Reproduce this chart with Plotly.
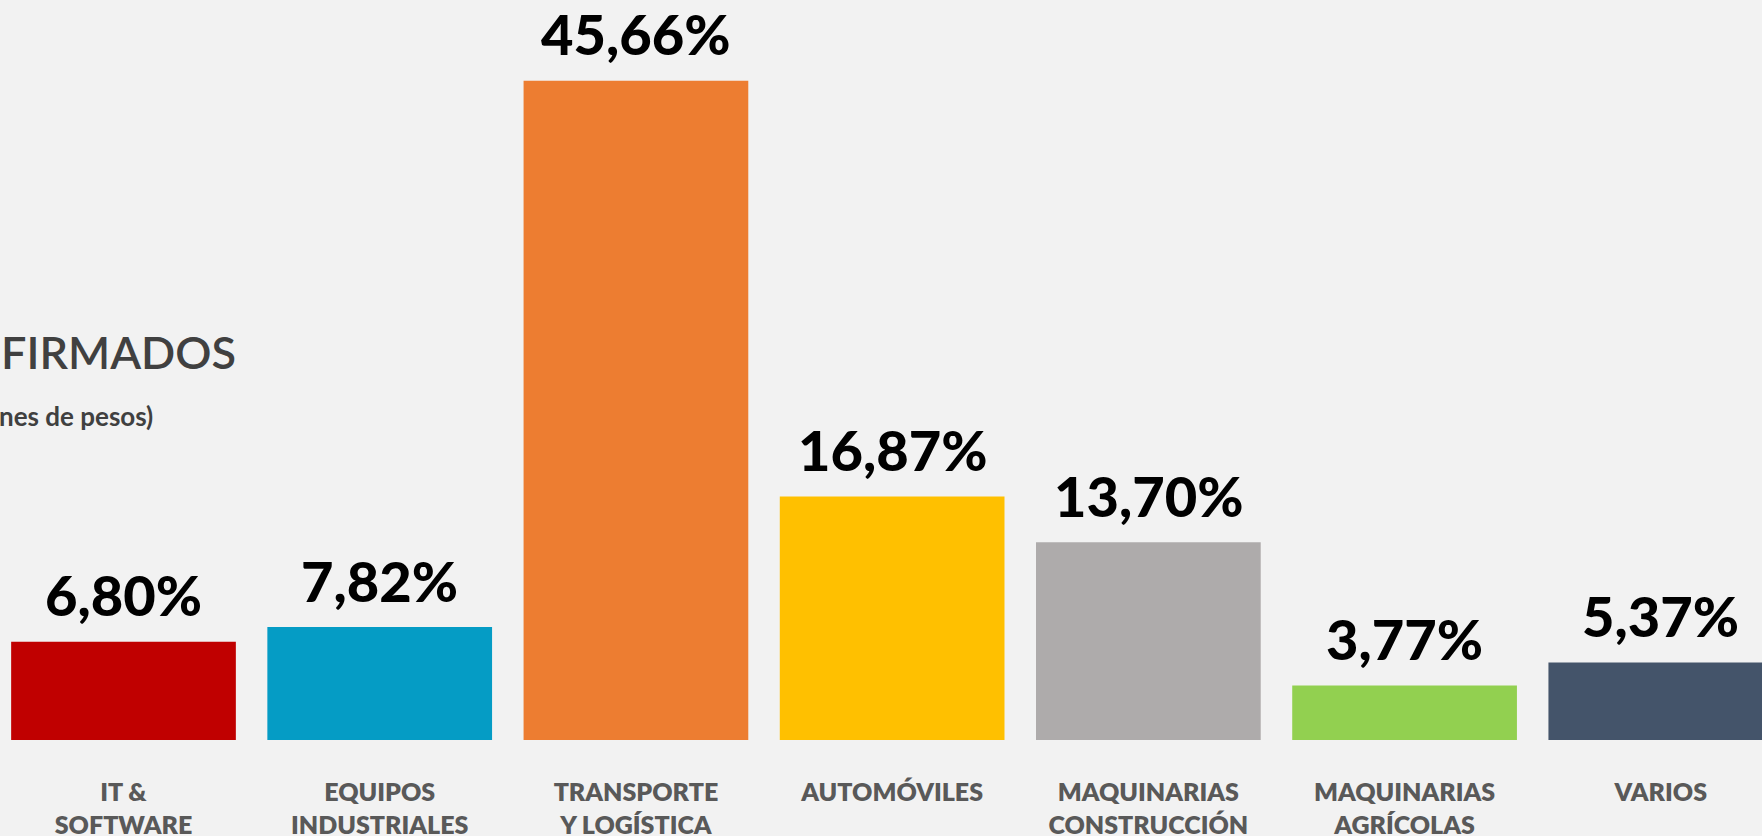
import plotly.graph_objects as go

categories = ["IT &<br>SOFTWARE", "EQUIPOS<br>INDUSTRIALES", "TRANSPORTE<br>Y LOGÍSTICA",
              "AUTOMÓVILES", "MAQUINARIAS<br>CONSTRUCCIÓN", "MAQUINARIAS<br>AGRÍCOLAS", "VARIOS"]
values = [6.80, 7.82, 45.66, 16.87, 13.70, 3.77, 5.37]
value_labels = ["6,80%", "7,82%", "45,66%", "16,87%", "13,70%", "3,77%", "5,37%"]
colors = ["#C00000", "#059CC5", "#ED7D31", "#FFC000", "#AEABAB", "#92D050", "#44546A"]
title_text = "FIRMADOS"
subtitle_text = "nes de pesos)"

xs = list(range(len(categories)))

fig = go.Figure()
fig.add_trace(go.Bar(x=xs, y=values, marker=dict(color=colors, line=dict(width=0)),
                     width=0.877, hoverinfo="skip"))

for x, v, t in zip(xs, values, value_labels):
    fig.add_annotation(x=x, y=v, xref="x", yref="y", text=t, showarrow=False,
                       yanchor="middle", yshift=47,
                       font=dict(family="Lato", size=56, color="#000000", weight=900))

fig.add_annotation(x=0.0, y=0.538, xref="paper", yref="paper", text=title_text,
                   showarrow=False, xanchor="left", yanchor="middle", borderpad=0,
                   font=dict(family="Lato", size=45, color="#404040", weight=600))
fig.add_annotation(x=154 / 1762, y=0.449, xref="paper", yref="paper", text=subtitle_text,
                   showarrow=False, xanchor="right", yanchor="middle", borderpad=0,
                   font=dict(family="Lato", size=26, color="#404040", weight="bold"))

fig.update_layout(
    width=1762, height=836,
    margin=dict(l=0, r=0, t=18, b=96, autoexpand=False),
    paper_bgcolor="#F2F2F2", plot_bgcolor="#F2F2F2",
    showlegend=False,
    xaxis=dict(range=[-0.482, 6.395], tickvals=xs, ticktext=categories,
               showgrid=False, zeroline=False, showline=False, ticks="", automargin=False,
               tickfont=dict(family="Lato", size=25, color="#595959", weight=800),
               ticklabelstandoff=35, fixedrange=True),
    yaxis=dict(range=[0, 50], visible=False, showgrid=False, zeroline=False,
               automargin=False, fixedrange=True),
)

fig.write_html("out.html", config={"displayModeBar": False},
               post_script="document.body.style.margin='0';document.body.style.overflow='hidden';"
                           "document.body.style.background='#F2F2F2';")
